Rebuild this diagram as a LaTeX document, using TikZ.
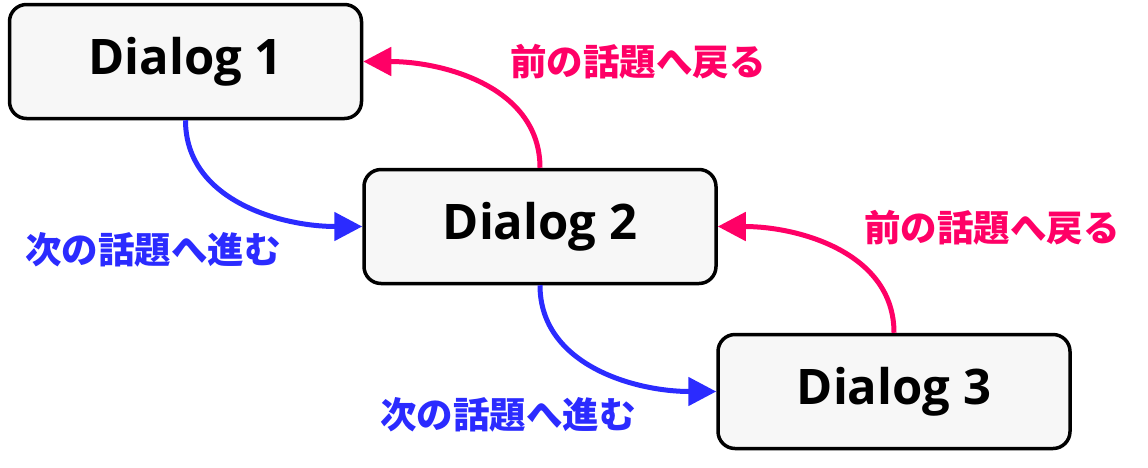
\documentclass[tikz,border=0pt]{standalone}
\usepackage{fontspec}
\setmainfont{Open Sans}
\newfontfamily\jpfont{Noto Sans CJK JP}
\usetikzlibrary{arrows.meta, positioning}
\definecolor{nextBlue}{HTML}{2B2BFF}
\definecolor{backPink}{HTML}{FF0066}
\definecolor{boxFill}{HTML}{F7F7F7}

\begin{document}
\begin{tikzpicture}[
    x=1pt, y=1pt,
    dialogNode/.style={rectangle, rounded corners=17pt, fill=boxFill, draw=black, line width=3.5pt, minimum width=352pt, minimum height=114pt, font=\fontsize{49}{54}\selectfont\bfseries},
    nextRel/.style={-{Triangle[length=28pt,width=28pt]}, nextBlue, line width=5pt},
    backRel/.style={-{Triangle[length=28pt,width=28pt]}, backPink, line width=5pt},
    nextLabel/.style={text=nextBlue, font=\jpfont\fontsize{36.5}{42}\selectfont\bfseries},
    backLabel/.style={text=backPink, font=\jpfont\fontsize{36.5}{42}\selectfont\bfseries}
]
    \useasboundingbox (0,0) rectangle (1148,-467);

    % Dialog boxes
    \node[dialogNode] (d1) at (185.5,-61.5)  {Dialog 1};
    \node[dialogNode] (d2) at (540,-226.5)   {Dialog 2};
    \node[dialogNode] (d3) at (894,-391.5)   {Dialog 3};

    % Labels
    \node[backLabel] (back1) at (638,-62)  {前の話題へ戻る};
    \node[nextLabel] (next1) at (153,-250) {次の話題へ進む};
    \node[backLabel] (back2) at (992,-228) {前の話題へ戻る};
    \node[nextLabel] (next2) at (508,-415) {次の話題へ進む};

    % Forward
    \draw[nextRel] (d1.south) to[out=-90, in=180] (d2.west);
    \draw[nextRel] (d2.south) to[out=-90, in=180] (d3.west);

    % Back
    \draw[backRel] (d2.north) to[out=90, in=0] (d1.east);
    \draw[backRel] (d3.north) to[out=90, in=0] (d2.east);
\end{tikzpicture}
\end{document}
